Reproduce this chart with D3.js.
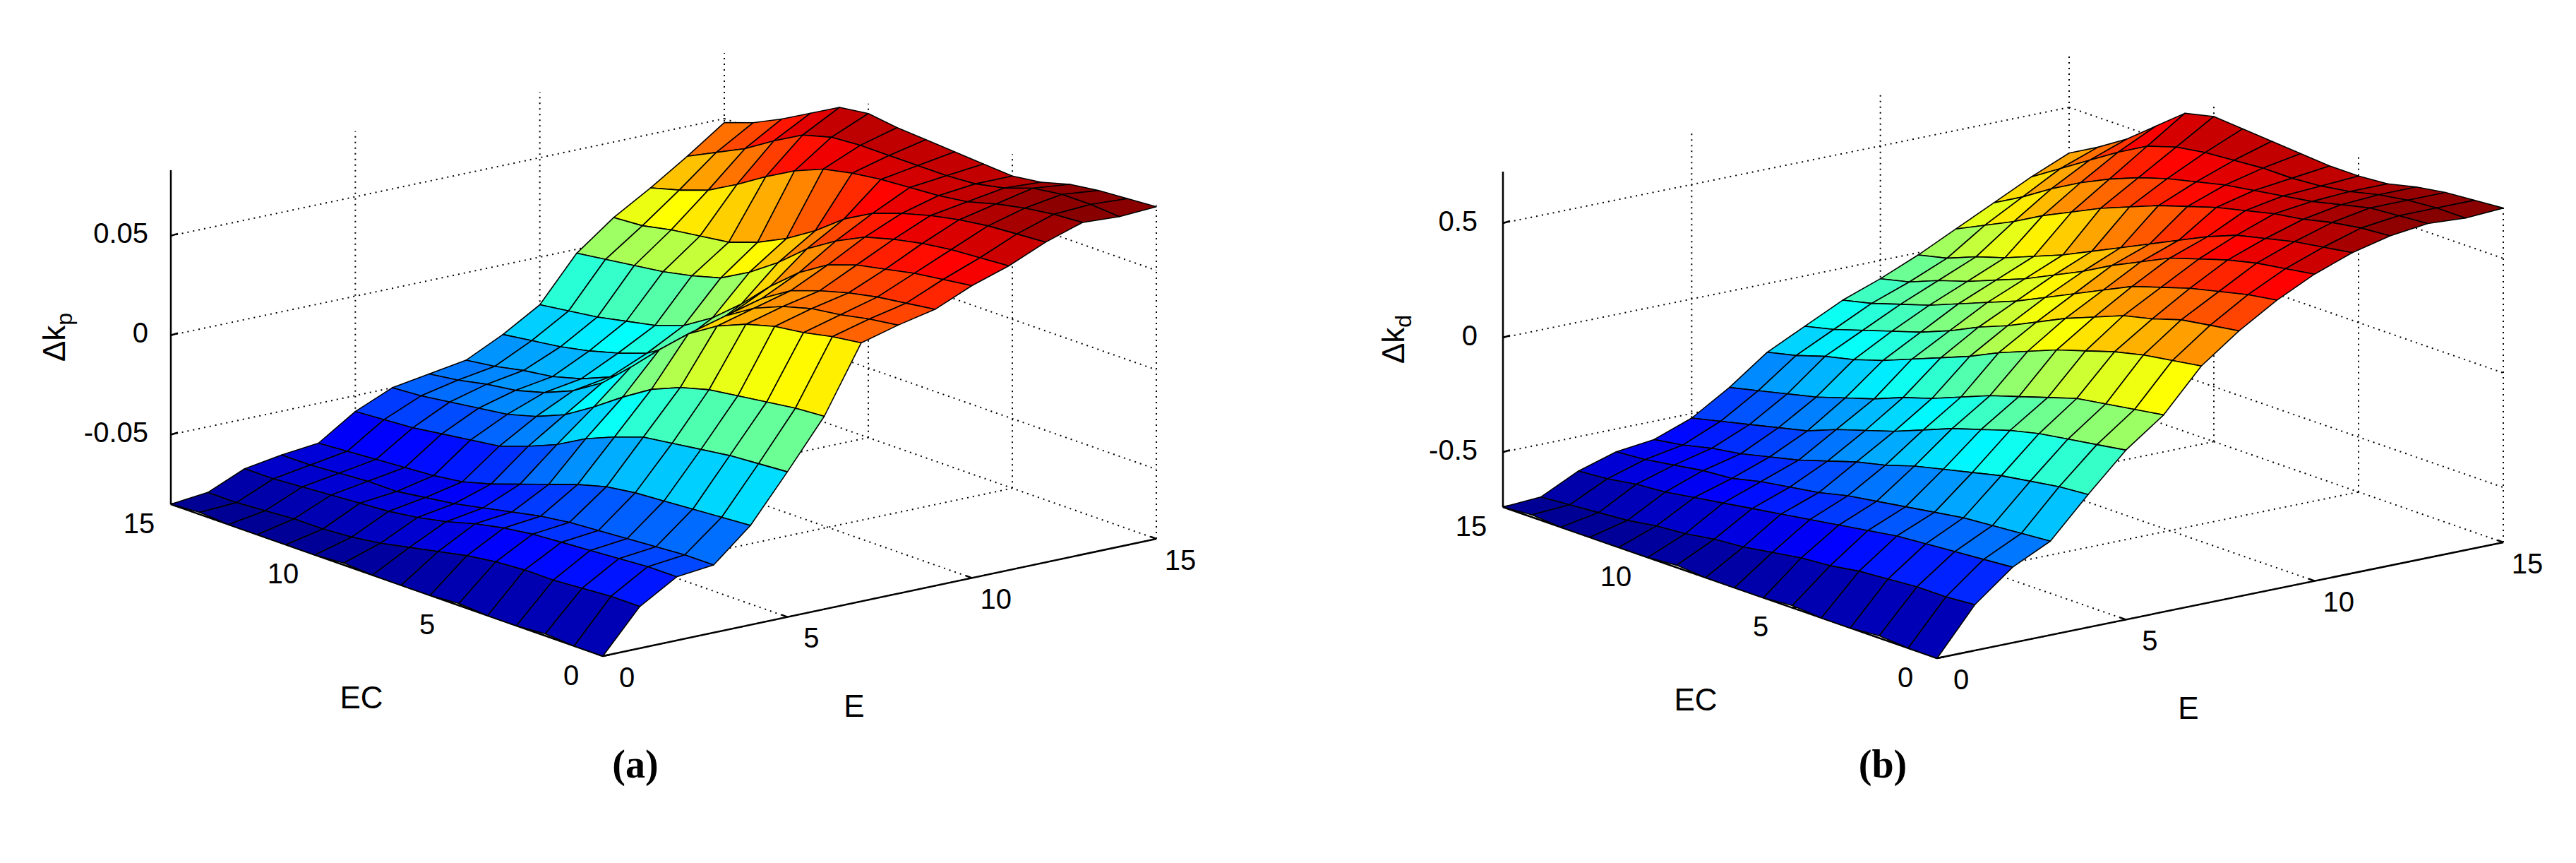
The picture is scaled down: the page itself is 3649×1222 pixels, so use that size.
<!DOCTYPE html>
<meta charset="utf-8">
<script src="https://d3js.org/d3.v7.min.js"></script>
<style>
  body { margin: 0; background: #fff; }
  text { font-family: "Liberation Sans Narrow", "Liberation Sans", Arial, sans-serif; }
</style>
<div id="chart"></div>
<script>
// grid coordinates (E along one floor axis, EC along the other)
const eValues = d3.range(0, 16);
const ecValues = d3.range(0, 16);
const floorTicks = [0, 5, 10, 15];

// Δk_p : rows = E (0..15), columns = EC (0..15)
const dkp = [
  [-.085,-.085,-.084,-.085,-.085,-.084,-.085,-.085,-.085,-.084,-.085,-.085,-.085,-.085,-.084,-.085],
  [-.064,-.064,-.065,-.066,-.066,-.067,-.069,-.072,-.075,-.078,-.080,-.081,-.081,-.082,-.083,-.083],
  [-.053,-.053,-.054,-.055,-.056,-.057,-.059,-.062,-.066,-.069,-.071,-.072,-.073,-.074,-.075,-.075],
  [-.051,-.051,-.052,-.053,-.054,-.055,-.057,-.060,-.063,-.066,-.068,-.070,-.070,-.071,-.072,-.072],
  [-.035,-.036,-.037,-.038,-.039,-.041,-.045,-.050,-.055,-.060,-.064,-.066,-.067,-.068,-.069,-.070],
  [-.012,-.013,-.014,-.016,-.018,-.020,-.025,-.031,-.039,-.045,-.050,-.052,-.054,-.056,-.057,-.058],
  [ .012, .011, .009, .007, .005, .001,-.005,-.014,-.024,-.033,-.039,-.043,-.045,-.047,-.049,-.050],
  [ .045, .043, .040, .038, .034, .028, .019, .006,-.008,-.021,-.030,-.036,-.040,-.042,-.045,-.047],
  [ .050, .048, .045, .043, .039, .033, .024, .011,-.005,-.018,-.027,-.033,-.037,-.039,-.042,-.044],
  [ .054, .052, .050, .047, .043, .038, .029, .017, .002,-.010,-.019,-.024,-.028,-.031,-.033,-.035],
  [ .062, .060, .058, .055, .052, .047, .038, .026, .012, .000,-.009,-.014,-.017,-.020,-.022,-.024],
  [ .068, .067, .066, .064, .061, .057, .050, .041, .029, .019, .011, .007, .004, .002, .000,-.002],
  [ .076, .075, .074, .072, .069, .065, .060, .052, .041, .032, .025, .020, .018, .016, .013, .012],
  [ .082, .081, .079, .076, .072, .070, .069, .068, .066, .063, .057, .049, .040, .032, .027, .023],
  [ .081, .082, .082, .080, .075, .072, .071, .071, .071, .071, .070, .066, .058, .049, .042, .035],
  [ .082, .081, .080, .078, .074, .072, .073, .074, .075, .076, .078, .076, .068, .060, .053, .048]
];

// Δk_d : rows = E (0..15), columns = EC (0..15)
const dkd = [
  [-.74,-.74,-.73,-.74,-.74,-.73,-.74,-.74,-.74,-.73,-.74,-.74,-.74,-.74,-.73,-.74],
  [-.54,-.55,-.55,-.56,-.57,-.59,-.60,-.62,-.64,-.65,-.67,-.68,-.70,-.71,-.72,-.73],
  [-.41,-.42,-.43,-.44,-.45,-.47,-.49,-.51,-.53,-.55,-.57,-.59,-.61,-.62,-.64,-.65],
  [-.33,-.34,-.35,-.36,-.38,-.40,-.42,-.44,-.47,-.49,-.51,-.54,-.55,-.57,-.59,-.60],
  [-.16,-.17,-.19,-.21,-.24,-.27,-.30,-.34,-.37,-.41,-.45,-.48,-.51,-.53,-.56,-.58],
  [ .00,-.02,-.04,-.06,-.09,-.13,-.17,-.22,-.27,-.31,-.35,-.40,-.43,-.46,-.49,-.52],
  [ .12, .10, .08, .06, .02,-.02,-.06,-.11,-.16,-.20,-.25,-.29,-.33,-.36,-.39,-.42],
  [ .30, .28, .26, .23, .19, .15, .10, .05,-.01,-.06,-.11,-.16,-.20,-.23,-.27,-.30],
  [ .42, .40, .38, .34, .31, .26, .21, .15, .09, .04,-.02,-.07,-.11,-.15,-.19,-.22],
  [ .52, .50, .47, .44, .40, .36, .30, .24, .18, .12, .07, .02,-.03,-.07,-.11,-.14],
  [ .60, .58, .56, .53, .49, .45, .39, .33, .26, .20, .14, .09, .04, .00,-.05,-.08],
  [ .66, .64, .62, .59, .56, .51, .45, .39, .33, .27, .21, .16, .11, .07, .02,-.01],
  [ .70, .69, .67, .64, .62, .59, .56, .52, .48, .43, .38, .32, .26, .19, .13, .07],
  [ .72, .71, .70, .67, .64, .62, .60, .58, .55, .52, .48, .43, .37, .30, .22, .15],
  [ .71, .71, .70, .68, .65, .63, .62, .62, .61, .60, .58, .54, .47, .39, .31, .23],
  [ .72, .71, .70, .68, .65, .64, .64, .65, .66, .67, .68, .65, .55, .45, .37, .30]
];

const jet = ["#00008f", "#0000ff", "#0080ff", "#00ffff", "#80ff80", "#ffff00", "#ff8000", "#ff0000", "#800000"];

const svg = d3.select("#chart").append("svg")
  .attr("width", 3649).attr("height", 1222);

function drawPanel(p) {
  const g = svg.append("g");
  const eX = d3.scaleLinear().domain([0, 15]).range([0, p.right[0] - p.front[0]]);
  const eY = d3.scaleLinear().domain([0, 15]).range([0, p.right[1] - p.front[1]]);
  const cX = d3.scaleLinear().domain([0, 15]).range([0, p.left[0] - p.front[0]]);
  const cY = d3.scaleLinear().domain([0, 15]).range([0, p.left[1] - p.front[1]]);
  const zY = d3.scaleLinear().domain(p.zlim).range([0, -p.zHeight]);
  const color = d3.scaleLinear()
    .domain(d3.range(9).map(i => p.zlim[0] + i * (p.zlim[1] - p.zlim[0]) / 8))
    .range(jet).clamp(true);
  const pt = (e, c, z) => [p.front[0] + eX(e) + cX(c), p.front[1] + eY(e) + cY(c) + zY(z)];
  const line = d3.line();
  const zmin = p.zlim[0], zmax = p.zlim[1];

  // dotted grid on back walls and floor
  const grid = [];
  floorTicks.forEach(t => {
    grid.push([pt(t, 0, zmin), pt(t, 15, zmin)]);
    grid.push([pt(0, t, zmin), pt(15, t, zmin)]);
    grid.push([pt(t, 15, zmin), pt(t, 15, zmax)]);
    grid.push([pt(15, t, zmin), pt(15, t, zmax)]);
  });
  p.zTicks.forEach(z => {
    grid.push([pt(0, 15, z), pt(15, 15, z)]);
    grid.push([pt(15, 15, z), pt(15, 0, z)]);
  });
  g.selectAll(".grid").data(grid).join("path")
    .attr("d", d => line(d)).attr("fill", "none")
    .attr("stroke", "#000").attr("stroke-width", 2).attr("stroke-dasharray", "2,6");

  // solid axes
  const axes = [
    [pt(0, 15, zmin), pt(0, 15, zmax)],
    [pt(0, 0, zmin), pt(0, 15, zmin)],
    [pt(0, 0, zmin), pt(15, 0, zmin)]
  ];
  g.selectAll(".axis").data(axes).join("path")
    .attr("d", d => line(d)).attr("stroke", "#000").attr("stroke-width", 2.5);

  // tick marks
  const ticks = [];
  p.zTicks.forEach(z => { const a = pt(0, 15, z); ticks.push([a, [a[0] + 10, a[1] - 3]]); });
  floorTicks.forEach(t => {
    const a = pt(0, t, zmin); ticks.push([a, [a[0] + 10, a[1] - 2]]);
    const b = pt(t, 0, zmin); ticks.push([b, [b[0] - 8, b[1] - 3]]);
  });
  g.selectAll(".tick").data(ticks).join("path")
    .attr("d", d => line(d)).attr("stroke", "#000").attr("stroke-width", 2.5);

  // surface quads, far to near; flat colour from the first vertex
  const quads = [];
  for (let i = 0; i < eValues.length - 1; i++) {
    for (let j = 0; j < ecValues.length - 1; j++) {
      const Z = p.data;
      quads.push({
        depth: i + j,
        pts: [pt(eValues[i], ecValues[j], Z[i][j]), pt(eValues[i + 1], ecValues[j], Z[i + 1][j]),
              pt(eValues[i + 1], ecValues[j + 1], Z[i + 1][j + 1]), pt(eValues[i], ecValues[j + 1], Z[i][j + 1])],
        z: (3 * Z[i][j] + Z[i + 1][j] + Z[i][j + 1] + Z[i + 1][j + 1]) / 6
      });
    }
  }
  quads.sort((a, b) => b.depth - a.depth);
  g.selectAll(".quad").data(quads).join("path")
    .attr("d", d => line(d.pts) + "Z")
    .attr("fill", d => color(d.z))
    .attr("stroke", "#000").attr("stroke-width", 1.6).attr("stroke-linejoin", "round");

  // tick labels
  const fs = 40;
  p.zTicks.forEach((z, k) => {
    const a = pt(0, 15, z);
    g.append("text").attr("x", a[0] - p.zLabGap).attr("y", a[1])
      .attr("text-anchor", "end").attr("dominant-baseline", "middle")
      .attr("font-size", fs).text(p.zLabels[k]);
  });
  floorTicks.forEach(t => {
    const a = pt(0, t, zmin);
    g.append("text").attr("x", a[0] - 45).attr("y", a[1] + 30)
      .attr("text-anchor", "middle").attr("dominant-baseline", "middle")
      .attr("font-size", fs).text(t);
    const b = pt(t, 0, zmin);
    g.append("text").attr("x", b[0] + 34).attr("y", b[1] + 33)
      .attr("text-anchor", "middle").attr("dominant-baseline", "middle")
      .attr("font-size", fs).text(t);
  });

  // axis titles
  g.append("text").attr("x", p.front[0] - 342).attr("y", p.front[1] + 62)
    .attr("text-anchor", "middle").attr("dominant-baseline", "middle")
    .attr("font-size", 44).text("EC");
  g.append("text").attr("x", p.front[0] + 356).attr("y", p.front[1] + 74)
    .attr("text-anchor", "middle").attr("dominant-baseline", "middle")
    .attr("font-size", 44).text("E");
  const zt = g.append("text")
    .attr("transform", `translate(${p.left[0] - p.zTitleGap},${p.left[1] - p.zHeight / 2}) rotate(-90)`)
    .attr("text-anchor", "middle").attr("font-size", 44);
  zt.append("tspan").text("Δk");
  zt.append("tspan").attr("font-size", 32).attr("dy", 10).text(p.sub);

  // caption
  const cap = svg.append("text").attr("x", p.caption[0]).attr("y", p.caption[1])
    .attr("text-anchor", "middle").attr("dominant-baseline", "middle")
    .style("font-family", "'Liberation Serif', 'Times New Roman', serif")
    .attr("font-weight", "bold").attr("font-size", 56);
  cap.append("tspan").text("(");
  cap.append("tspan").text(p.letter);
  cap.append("tspan").text(")");
}

drawPanel({
  data: dkp, front: [854, 929], left: [242, 714], right: [1638, 763],
  zlim: [-0.085, 0.083], zHeight: 473, zTicks: [-0.05, 0, 0.05], zLabels: ["-0.05", "0", "0.05"],
  zLabGap: 32, zTitleGap: 150, sub: "p", caption: [900, 1088], letter: "a"
});
drawPanel({
  data: dkd, front: [2744, 932], left: [2129, 718], right: [3546, 768],
  zlim: [-0.74, 0.725], zHeight: 475, zTicks: [-0.5, 0, 0.5], zLabels: ["-0.5", "0", "0.5"],
  zLabGap: 36, zTitleGap: 140, sub: "d", caption: [2667, 1088], letter: "b"
});
</script>
